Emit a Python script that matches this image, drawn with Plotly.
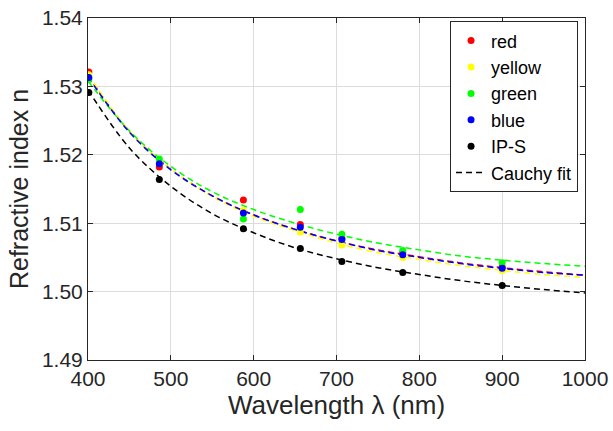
import plotly.graph_objects as go

# Measured data (wavelength in nm)
wl_pts = [401, 486.1, 587.6, 656.3, 706.5, 780, 900]
n_red = [1.5321, 1.5182, 1.5134, 1.5098, 1.5078, 1.5057, 1.5036]
n_yellow = [1.5317, 1.5190, 1.5119, 1.5087, 1.5068, 1.5050, 1.5031]
n_green = [1.5310, 1.5194, 1.5106, 1.5120, 1.5084, 1.5060, 1.5042]
n_blue = [1.5313, 1.5187, 1.5115, 1.5094, 1.5076, 1.5054, 1.5034]
n_ips = [1.5291, 1.5164, 1.5092, 1.5063, 1.5044, 1.5028, 1.5009]

# Cauchy fit curves
wl_fit = [400, 450, 500, 550, 600, 650, 700, 750, 800, 850, 900, 950, 1000]
fit_red = [1.5316, 1.5234, 1.5179, 1.5140, 1.5112, 1.5091, 1.5074, 1.5061, 1.5051, 1.5042, 1.5035, 1.5029, 1.5024]
fit_yellow = [1.5318, 1.5235, 1.5179, 1.5139, 1.5110, 1.5089, 1.5071, 1.5057, 1.5047, 1.5038, 1.5031, 1.5025, 1.5021]
fit_green = [1.5308, 1.5235, 1.5183, 1.5146, 1.5120, 1.5100, 1.5084, 1.5071, 1.5061, 1.5052, 1.5046, 1.5041, 1.5037]
fit_blue = [1.5314, 1.5233, 1.5178, 1.5140, 1.5112, 1.5091, 1.5074, 1.5060, 1.5050, 1.5041, 1.5034, 1.5028, 1.5024]
fit_ips = [1.5295, 1.5210, 1.5154, 1.5114, 1.5086, 1.5064, 1.5048, 1.5035, 1.5025, 1.5016, 1.5009, 1.5003, 1.4998]

x_ticks = [400, 500, 600, 700, 800, 900, 1000]
y_ticks = [1.49, 1.50, 1.51, 1.52, 1.53, 1.54]

series = [
    ("red", "#ff0000", n_red, fit_red),
    ("yellow", "#ffff00", n_yellow, fit_yellow),
    ("green", "#00ff00", n_green, fit_green),
    ("blue", "#0000ff", n_blue, fit_blue),
    ("IP-S", "#000000", n_ips, fit_ips),
]

FONT = "Liberation Sans, Arial, sans-serif"
fig = go.Figure()
dash = "6px,4px"
for name, col, pts, fit in series:
    fig.add_trace(go.Scatter(
        x=wl_fit, y=fit, mode="lines", line=dict(color=col, width=1.5, dash=dash, shape="spline"),
        name="Cauchy fit", showlegend=(name == "IP-S"), legendrank=1100, hoverinfo="skip"))
for i, (name, col, pts, fit) in enumerate(series):
    fig.add_trace(go.Scatter(
        x=wl_pts, y=pts, mode="markers", marker=dict(color=col, size=7),
        name=name, legendrank=1000 + i))

axis_common = dict(
    showline=True, linecolor="#262626", linewidth=1, mirror="ticks",
    ticks="inside", ticklen=5, tickcolor="#262626",
    showgrid=True, gridcolor="#dcdcdc", gridwidth=1, zeroline=False,
    automargin=False,
    tickfont=dict(family=FONT, size=21, color="#262626"),
)
fig.update_xaxes(range=[400, 1000], tickvals=x_ticks, ticktext=[str(v) for v in x_ticks],
                 title=dict(text="Wavelength λ (nm)", font=dict(family=FONT, size=26, color="#262626"), standoff=4),
                 **axis_common)
fig.update_yaxes(range=[1.49, 1.54], tickvals=y_ticks, ticktext=[f"{v:.2f}" for v in y_ticks],
                 title=dict(text="Refractive index n", font=dict(family=FONT, size=25, color="#262626"), standoff=6),
                 **axis_common)
fig.update_layout(
    width=613, height=431,
    margin=dict(l=88, r=28, t=18, b=71),
    plot_bgcolor="white", paper_bgcolor="white",
    legend=dict(x=0.986, y=0.99, xanchor="right", yanchor="top",
                bgcolor="white", bordercolor="#262626", borderwidth=1,
                font=dict(family=FONT, size=18, color="black"),
                itemwidth=30, tracegroupgap=0),
    showlegend=True,
)
fig.write_html("out.html", config={"displayModeBar": False},
               post_script="document.body.style.margin='0';document.body.style.overflow='hidden';")
